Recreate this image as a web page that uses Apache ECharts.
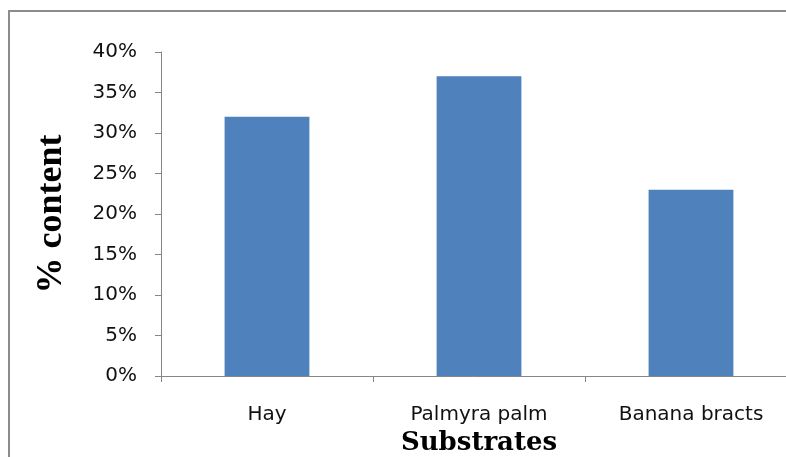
<!DOCTYPE html>
<html><head><meta charset="utf-8">
<script src="https://cdn.jsdelivr.net/npm/echarts@6/dist/echarts.min.js"></script>
<style>html,body{margin:0;padding:0;background:#fff;overflow:hidden}#c{width:786px;height:457px}</style>
</head><body><div id="c"></div>
<script>
const categories = ["Hay", "Palmyra palm", "Banana bracts"];
const values = [0.32, 0.37, 0.23];
const yTicks = [0, 0.05, 0.10, 0.15, 0.20, 0.25, 0.30, 0.35, 0.40];

const chart = echarts.init(document.getElementById('c'));
chart.setOption({
  animation: false,
  backgroundColor: '#fff',
  graphic: [{
    type: 'line', silent: true,
    shape: {x1: 9, y1: 11, x2: 9, y2: 470},
    style: {stroke: '#8c8c8c', lineWidth: 2}
  }, {
    type: 'line', silent: true,
    shape: {x1: 8, y1: 11, x2: 900, y2: 11},
    style: {stroke: '#8c8c8c', lineWidth: 2}
  }],
  grid: {left: 161, right: -11, top: 52, bottom: 81, containLabel: false, outerBoundsMode: 'none'},
  xAxis: {
    type: 'category', data: categories,
    name: 'Substrates', nameLocation: 'middle', nameGap: 48,
    nameTextStyle: {fontFamily: 'DejaVu Serif', fontWeight: 'bold', fontSize: 26, color: '#000'},
    axisLine: {lineStyle: {color: '#868686', width: 1}},
    axisTick: {show: true, length: 6, lineStyle: {color: '#868686'}},
    axisLabel: {margin: 29, fontFamily: 'DejaVu Sans', fontSize: 20, color: '#111'}
  },
  yAxis: {
    type: 'value', min: yTicks[0], max: yTicks[yTicks.length - 1], interval: 0.05,
    name: '% content', nameLocation: 'middle', nameGap: 91, nameRotate: 90,
    nameTextStyle: {fontFamily: 'Liberation Serif', fontWeight: 'bold', fontSize: 36, color: '#000'},
    axisLine: {show: true, lineStyle: {color: '#868686', width: 1}},
    axisTick: {show: true, length: 6, lineStyle: {color: '#868686'}},
    splitLine: {show: false},
    axisLabel: {margin: 24, fontFamily: 'DejaVu Sans', fontSize: 20, color: '#111',
      formatter: v => Math.round(v * 100) + '%'}
  },
  series: [{
    type: 'bar', data: values, barWidth: '40%',
    itemStyle: {color: '#4F81BD'}
  }]
});
</script></body></html>
